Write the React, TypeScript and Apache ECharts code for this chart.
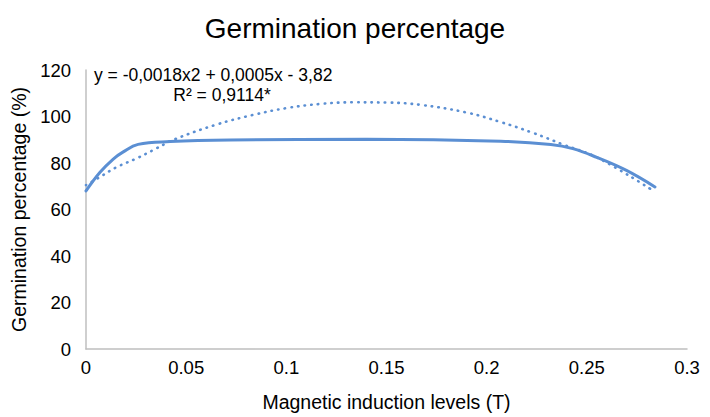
import React, { useEffect, useRef } from "react";
import * as echarts from "echarts";

const titleText = "Germination percentage";
const xAxisName = "Magnetic induction levels (T)";
const yAxisName = "Germination percentage (%)";
const equationText = "y = -0,0018x2 + 0,0005x - 3,82";
const r2Text = "R² = 0,9114*";

// observed germination (solid line): [x, y]
const observedX = [0, 0.007, 0.0136, 0.0186, 0.026, 0.042, 0.072, 0.14, 0.207, 0.232, 0.243, 0.255, 0.27, 0.284];
const observedY = [68, 76, 81.7, 84.8, 88, 89.2, 89.9, 90.2, 89.4, 88, 86.2, 82.4, 76.7, 69.7];

// polynomial trendline (dotted)
const trendX = [0, 0.007, 0.0153, 0.0253, 0.035, 0.0434, 0.065, 0.0835, 0.1, 0.117, 0.133, 0.15, 0.167, 0.19, 0.207, 0.223, 0.238, 0.255, 0.282];
const trendY = [70.5, 74, 78.2, 82, 86.2, 89.9, 96.5, 100.7, 103.6, 105.4, 106.1, 106, 105, 101.7, 97.6, 93, 88, 82.4, 68.7];

const blue = "#5B8FD3";
const font = "Liberation Sans, Arial, Helvetica, sans-serif";

export default function App() {
  const ref = useRef<HTMLDivElement>(null);
  useEffect(() => {
    if (!ref.current) return;
    const chart = echarts.init(ref.current, undefined, { renderer: "svg" });
    const pairs = (xs: number[], ys: number[]) => xs.map((x, i) => [x, ys[i]]);
    chart.setOption({
      animation: false,
      backgroundColor: "#ffffff",
      title: {
        text: titleText,
        left: "center",
        top: 9,
        textStyle: { fontFamily: font, fontSize: 28, fontWeight: "normal", color: "#000" },
      },
      grid: { left: 86, right: 23, top: 70, bottom: 63 },
      xAxis: {
        type: "value",
        min: 0,
        max: 0.3,
        interval: 0.05,
        name: xAxisName,
        nameLocation: "middle",
        nameGap: 43,
        nameTextStyle: { fontFamily: font, fontSize: 19.5, color: "#000" },
        axisLine: { show: true, lineStyle: { color: "#BFBFBF", width: 1.5 } },
        axisTick: { show: false },
        splitLine: { show: false },
        axisLabel: { fontFamily: font, fontSize: 18.5, color: "#000", margin: 9 },
      },
      yAxis: {
        type: "value",
        min: 0,
        max: 120,
        interval: 20,
        name: yAxisName,
        nameLocation: "middle",
        nameGap: 55,
        nameTextStyle: { fontFamily: font, fontSize: 19.5, color: "#000" },
        axisLine: { show: true, lineStyle: { color: "#BFBFBF", width: 1.5 } },
        axisTick: { show: false },
        splitLine: { show: false },
        axisLabel: { fontFamily: font, fontSize: 18.5, color: "#000", margin: 15 },
      },
      graphic: [
        {
          type: "text",
          x: 94,
          y: 75,
          style: {
            text: equationText,
            fontFamily: font,
            fontSize: 17.5,
            lineHeight: 18,
            fill: "#000",
            textAlign: "left",
            textVerticalAlign: "middle",
          },
        },
        {
          type: "text",
          x: 222,
          y: 95,
          style: {
            text: r2Text,
            fontFamily: font,
            fontSize: 17.5,
            lineHeight: 18,
            fill: "#000",
            textAlign: "center",
            textVerticalAlign: "middle",
          },
        },
      ],
      series: [
        {
          type: "line",
          data: pairs(trendX, trendY),
          smooth: 0.4,
          showSymbol: false,
          symbol: "none",
          lineStyle: { color: blue, width: 2.6, type: [0.5, 6.2], cap: "round" },
          z: 2,
        },
        {
          type: "line",
          data: pairs(observedX, observedY),
          smooth: 0.4,
          showSymbol: false,
          symbol: "none",
          lineStyle: { color: blue, width: 3, cap: "round" },
          z: 3,
        },
      ],
    });
    return () => chart.dispose();
  }, []);
  return (
    <div
      ref={ref}
      style={{ position: "absolute", left: 0, top: 0, width: 710, height: 417 }}
    />
  );
}
